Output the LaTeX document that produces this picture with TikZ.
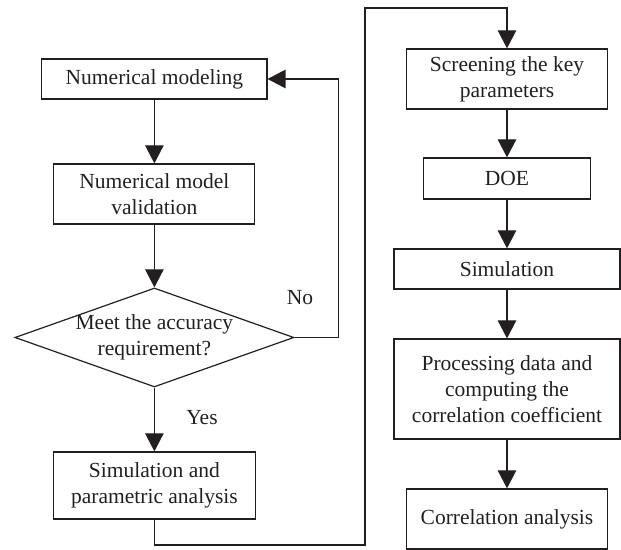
\documentclass[tikz,border=0pt]{standalone}
\usepackage{fontspec}
\setmainfont{Liberation Serif}
\usetikzlibrary{shapes.geometric,arrows.meta}
\definecolor{ink}{RGB}{35,31,32}
\begin{document}
\begin{tikzpicture}[
    every node/.style={text=ink},
    stage/.style={rectangle, draw=ink, line width=0.85pt, align=center,
                  inner sep=2pt, font=\fontsize{15.3}{18.5}\selectfont},
    check/.style={diamond, draw=ink, line width=0.85pt, align=center,
                  inner sep=-0.8pt, aspect=2.82,
                  font=\fontsize{15.3}{18.5}\selectfont},
    arr/.style={-{Triangle[length=0.45cm, width=0.46cm]}, draw=ink,
                line width=0.85pt},
    lbl/.style={font=\fontsize{15.3}{18.5}\selectfont},
  ]
  \useasboundingbox (0,0) rectangle (15.525,13.75);

  % Left column
  \node[stage, minimum width=5.625cm, minimum height=1.0cm]
    (model) at (3.86, 11.775) {Numerical modeling};
  \node[stage, minimum width=5.025cm, minimum height=1.5cm]
    (valid) at (3.86, 8.9) {Numerical model\\validation};
  \node[check, minimum width=6.975cm, minimum height=2.475cm]
    (acc) at (3.86, 5.3125) {Meet the accuracy\\requirement?};
  \node[stage, minimum width=5.05cm, minimum height=1.675cm]
    (param) at (3.86, 1.6125) {Simulation and\\parametric analysis};

  % Right column
  \node[stage, minimum width=5.025cm, minimum height=1.5cm]
    (screen) at (12.675, 11.775) {Screening the key\\parameters};
  \node[stage, minimum width=4.175cm, minimum height=1.025cm]
    (doe) at (12.675, 9.2875) {DOE};
  \node[stage, minimum width=5.65cm, minimum height=1.0cm]
    (sim) at (12.675, 7.025) {Simulation};
  \node[stage, minimum width=5.65cm, minimum height=2.5cm]
    (proc) at (12.675, 4.025) {Processing data and\\computing the\\correlation coefficient};
  \node[stage, minimum width=5.025cm, minimum height=1.5cm]
    (corr) at (12.675, 0.775) {Correlation analysis};

  % Main flow arrows
  \draw[arr] (model) -- (valid);
  \draw[arr] (valid) -- (acc);
  \draw[arr] (acc)   -- (param);
  \draw[arr] (screen) -- (doe);
  \draw[arr] (doe)    -- (sim);
  \draw[arr] (sim)    -- (proc);
  \draw[arr] (proc)   -- (corr);

  % Branch labels
  \node[lbl] (no)  at (7.5, 6.3)  {No};
  \node[lbl] (yes) at (5.05, 3.3) {Yes};

  % Loop back when accuracy is not met
  \draw[arr] (acc.east) -- ++(1.1,0) |- (model.east);

  % Link between the two columns
  \coordinate (lowturn) at (9.125, 0.125);
  \coordinate (topturn) at (9.125, 13.55);
  \draw[arr] (param.south) |- (lowturn) -- (topturn) -| (screen.north);

  \end{tikzpicture}
\end{document}
